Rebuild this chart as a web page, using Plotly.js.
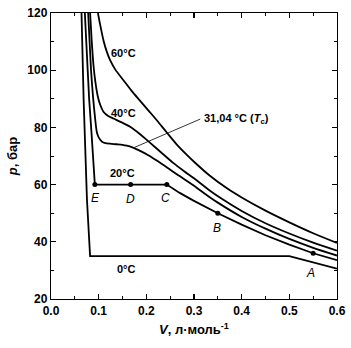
<!DOCTYPE html>
<html>
<head>
<meta charset="utf-8">
<script src="https://cdn.plot.ly/plotly-3.0.1.min.js"></script>
<style>html,body{margin:0;padding:0;background:#fff;}#chart{width:351px;height:348px;}</style>
</head>
<body>
<div id="chart"></div>
<script>
// Isotherms of CO2: molar volume V (l/mol) vs pressure p (bar)
const V60 = [0.0985,0.103,0.110,0.117,0.124,0.135,0.152,0.170,0.187,0.205,0.222,0.243,0.264,0.285,0.300,0.334,0.370,0.400,0.450,0.500,0.550,0.600];
const P60 = [120,116,110.5,106.5,103.5,100.2,96.5,92.6,89.3,85.8,82.5,78.2,74.0,70.4,68.0,63.0,58.6,55.5,50.9,46.8,43.0,39.6];

const V40 = [0.082,0.0855,0.089,0.093,0.098,0.103,0.110,0.120,0.131,0.150,0.166,0.187,0.208,0.230,0.257,0.280,0.300,0.330,0.355,0.400,0.450,0.500,0.550,0.600];
const P40 = [120,110,102,96,91,88,85.5,84,83.1,81.6,80.2,77.6,74.6,71.4,67.5,64.6,62.2,58.3,55.4,50.8,46.5,42.9,39.7,36.9];

const V31 = [0.078,0.081,0.084,0.088,0.092,0.096,0.100,0.107,0.114,0.124,0.138,0.150,0.159,0.172,0.187,0.205,0.222,0.245,0.264,0.300,0.327,0.350,0.400,0.450,0.500,0.550,0.600];
const P31 = [120,110,100,91,84,78.5,76.5,75,74.5,74.3,74.1,73.9,73.6,72.9,71.8,70.2,68.4,65.8,63.6,59.6,56.3,53.7,48.7,44.6,41.0,37.9,35.2];

const V20 = [0.071,0.075,0.080,0.085,0.089,0.091,0.092,0.167,0.243,0.270,0.299,0.350,0.400,0.450,0.500,0.550,0.600];
const P20 = [120,105,90,78,67,62,60,60,60,57.1,54.4,50,46,42.3,39,36,33.6];

const V0 = [0.064,0.0685,0.0755,0.082,0.500,0.600];
const P0 = [120,89.5,54.5,35,35,30.6];

// Marked states on the 20 °C isotherm
const ptNames = ['A','B','C','D','E'];
const ptV = [0.55,0.35,0.243,0.167,0.092];
const ptP = [36,50,60,60,60];

// Isotherm labels
const isoLabels = ['60°C','40°C','20°C','0°C'];
const isoLabV = [0.152,0.152,0.150,0.159];
const isoLabP = [105.9,85,64,30.4];

// Letter label positions
const letV = [0.545,0.348,0.241,0.166,0.093];
const letP = [29,44.7,55.2,54.8,55.2];

// Critical isotherm pointer
const tcText = '31,04 °C (<i>T</i><sub>c</sub>)';
const tcLineV = [0.175,0.313];
const tcLineP = [73.0,82.9];

const FONT = 'Liberation Sans, Arial, sans-serif';
const curve = {color:'#000', width:1.8, shape:'spline', smoothing:0.7};
const straight = {color:'#000', width:1.8};

const traces = [
  {x:V60,y:P60,mode:'lines',line:curve,hoverinfo:'skip'},
  {x:V40,y:P40,mode:'lines',line:curve,hoverinfo:'skip'},
  {x:V31,y:P31,mode:'lines',line:curve,hoverinfo:'skip'},
  {x:V20,y:P20,mode:'lines',line:straight,hoverinfo:'skip'},
  {x:V0,y:P0,mode:'lines',line:straight,hoverinfo:'skip'},
  {x:ptV,y:ptP,mode:'markers',marker:{color:'#000',size:5},text:ptNames,hoverinfo:'text'}
];

const annotations = [];
isoLabels.forEach((t,i)=>annotations.push({x:isoLabV[i],y:isoLabP[i],text:t,showarrow:false,
  font:{family:FONT,size:11,color:'#000',weight:'bold'}}));
ptNames.forEach((t,i)=>annotations.push({x:letV[i],y:letP[i],text:'<i>'+t+'</i>',showarrow:false,
  font:{family:FONT,size:12,color:'#000'}}));
annotations.push({x:tcLineV[1],y:tcLineP[1],text:tcText,showarrow:false,xanchor:'left',xshift:2,
  font:{family:FONT,size:11,color:'#000',weight:'bold'}});

const shapes = [{type:'line',xref:'x',yref:'y',x0:tcLineV[0],y0:tcLineP[0],x1:tcLineV[1],y1:tcLineP[1],
  line:{color:'#000',width:0.8}}];

const axisCommon = {
  showline:true, linecolor:'#000', linewidth:1.2, mirror:'ticks',
  ticks:'inside', ticklen:5, tickwidth:1.2, tickcolor:'#000',
  showgrid:false, zeroline:false,
  tickfont:{family:FONT,size:12,color:'#000',weight:'bold'}
};

const layout = {
  width:351, height:348,
  margin:{l:51,r:14,t:13,b:49},
  paper_bgcolor:'#fff', plot_bgcolor:'#fff',
  showlegend:false,
  xaxis:Object.assign({}, axisCommon, {
    range:[0,0.6], dtick:0.1, tick0:0, tickformat:'.1f',
    minor:{ticks:'inside',ticklen:3,dtick:0.05,tickcolor:'#000',tickwidth:1},
    title:{text:'<i>V</i>, л·моль<sup>-1</sup>',font:{family:FONT,size:13,color:'#000',weight:'bold'},standoff:8}
  }),
  yaxis:Object.assign({}, axisCommon, {
    range:[20,120], dtick:20, tick0:20,
    minor:{ticks:'inside',ticklen:3,dtick:10,tickcolor:'#000',tickwidth:1},
    title:{text:'<i>p</i>, бар',font:{family:FONT,size:13,color:'#000',weight:'bold'},standoff:6}
  }),
  annotations:annotations,
  shapes:shapes
};

Plotly.newPlot('chart', traces, layout, {displayModeBar:false, staticPlot:true});
</script>
</body>
</html>
